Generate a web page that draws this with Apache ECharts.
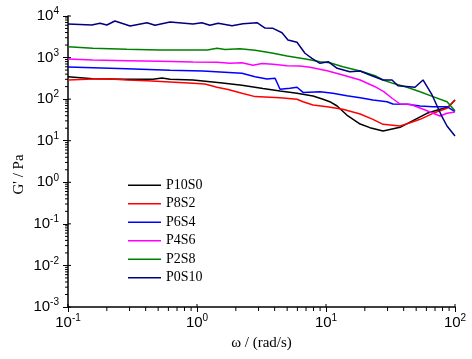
<!DOCTYPE html>
<html><head><meta charset="utf-8">
<script src="https://cdn.jsdelivr.net/npm/echarts@6/dist/echarts.min.js"></script>
<style>html,body{margin:0;padding:0;background:#fff}#c{width:472px;height:359px}</style>
</head><body><div id="c"></div>
<script>
const seriesNames = ['P10S0','P8S2','P6S4','P4S6','P2S8','P0S10'];
const seriesColors = ['#000000','#FF0000','#0000FF','#FF00FF','#008000','#000080'];

const w_P10S0 = [0.1,0.156,0.286,0.456,0.536,0.618,0.931,1.51,2.23,3.25,4.40,5.96,7.93,9.48,10.7,12.2,14.5,18.4,21.9,27.7,37.5,47.2,60.6,76.5,88.3,100];
const g_P10S0 = [347,311,300,300,323,300,289,249,215,180,157,138,119,99.1,86.7,68.4,41.5,25.2,20.6,17.1,21.0,30.3,45.6,57.0,63.7,95.3];

const w_P8S2 = [0.1,0.156,0.200,0.286,0.410,0.618,0.931,1.15,1.43,1.74,2.23,2.82,3.67,4.40,5.96,6.64,7.93,10.2,13.5,18.4,23.1,27.7,37.5,44.8,53.6,67.5,86.7,100];
const g_P8S2 = [289,305,311,289,278,258,240,231,193,171,138,115,111,108,99.1,86.7,72.3,65.8,57.0,44.0,32.7,24.8,22.6,27.1,32.7,45.6,60.3,95.3];

const w_P6S4 = [0.1,0.156,0.286,0.618,1.11,1.51,2.23,2.82,3.49,4.03,4.40,5.26,5.96,6.64,8.98,11.3,14.5,18.4,23.1,29.7,33.0,42.5,53.6,67.5,86.7,100];
const g_P6S4 = [593,571,540,494,475,450,419,347,305,317,173,182,193,145,151,138,121,108,95.3,86.7,76.4,75.2,68.4,65.8,65.8,49.9];

const w_P4S6 = [0.1,0.156,0.286,0.516,0.931,1.43,1.80,2.23,2.72,3.19,3.88,4.99,6.28,7.51,10.2,13.5,18.4,24.0,28.2,32.5,37.5,44.8,57.5,76.5,86.7,100];
const g_P4S6 = [925,875,842,814,782,769,728,753,652,719,688,637,627,583,483,381,289,199,149,105,76.4,75.2,56.4,39.3,45.6,49.1];

const w_P2S8 = [0.1,0.156,0.286,0.516,1.20,1.43,1.65,2.15,2.82,3.81,4.99,7.13,8.98,10.7,13.5,18.4,24.0,27.7,33.0,42.5,53.6,67.5,86.7,100];
const g_P2S8 = [1820,1670,1580,1520,1520,1670,1560,1630,1500,1290,1090,908,796,754,603,475,366,289,240,193,151,115,86.7,52.7];

const w_P0S10 = [0.1,0.153,0.177,0.200,0.231,0.303,0.410,0.472,0.618,0.931,1.09,1.26,1.46,1.87,2.27,2.92,3.37,3.88,4.56,5.07,5.96,6.87,7.78,8.98,10.4,12.2,15.3,18.4,21.9,27.7,32.5,36.1,49.0,56.5,66.4,79.3,86.7,100];
const g_P0S10 = [6430,6070,6670,6070,7590,5740,6900,5970,7180,6430,6900,5970,6670,5850,6530,6900,5140,5060,3960,2650,2330,1270,960,728,796,552,457,475,381,289,289,210,193,289,126,37.8,22.6,13.0];

const xMin = 0.1, xMax = 100, yMin = 0.001, yMax = 10000;

const allW = [w_P10S0,w_P8S2,w_P6S4,w_P4S6,w_P2S8,w_P0S10];
const allG = [g_P10S0,g_P8S2,g_P6S4,g_P4S6,g_P2S8,g_P0S10];

// tick positions (axis decoration)
const xMinor = [], yMinor = [], xMajor = [], yMajor = [];
for (let e = -1; e < 2; e++) for (let k = 2; k <= 9; k++) xMinor.push([k*Math.pow(10,e), yMin]);
for (let e = -3; e < 4; e++) for (let k = 2; k <= 9; k++) yMinor.push([xMin, k*Math.pow(10,e)]);
for (let e = -1; e <= 2; e++) xMajor.push([Math.pow(10,e), yMin]);
for (let e = -3; e <= 4; e++) yMajor.push([xMin, Math.pow(10,e)]);

function powLabel(v){
  const e = Math.round(Math.log10(v));
  return '{b|10}{s|' + e + '}';
}
const rich = {
  b:{fontFamily:'Liberation Sans',fontSize:15,color:'#000',lineHeight:18},
  s:{fontFamily:'Liberation Sans',fontSize:10,color:'#000',padding:[0,0,9,0],lineHeight:18}
};

const lineSeries = seriesNames.map((n,i)=>({
  name:n, type:'line', showSymbol:false, symbol:'none',
  data: allW[i].map((w,j)=>[w, allG[i][j]]),
  lineStyle:{color:seriesColors[i], width:1.5},
  itemStyle:{color:seriesColors[i]},
  animation:false, z:3
}));

function tickSeries(data, dx1, dy1, dx2, dy2){
  return {type:'custom', silent:true, data:data, encode:{x:0,y:1}, clip:false, z:5,
    renderItem:(p,api)=>{const c=api.coord([api.value(0),api.value(1)]);
      return {type:'line',shape:{x1:c[0]+dx1,y1:c[1]+dy1,x2:c[0]+dx2,y2:c[1]+dy2},style:{stroke:'#000',lineWidth:1}};}};
}

const chart = echarts.init(document.getElementById('c'));
chart.setOption({
  animation:false,
  grid:{left:68,right:17,top:16,bottom:52,containLabel:false},
  legend:{
    data:seriesNames, orient:'vertical', left:123, top:171,
    icon:'rect', itemWidth:33, itemHeight:1.5, itemGap:0,
    textStyle:{fontFamily:'Liberation Serif',fontSize:14,color:'#000',lineHeight:18.5}
  },
  xAxis:{
    type:'log', logBase:10, min:xMin, max:xMax,
    name:'ω / (rad/s)', nameLocation:'middle', nameGap:29, nameMoveOverlap:false,
    nameTextStyle:{fontFamily:'Liberation Serif',fontSize:15,color:'#000'},
    axisLine:{show:true,lineStyle:{color:'#000',width:1.5}},
    axisTick:{show:true,inside:false,length:5,lineStyle:{color:'#000',width:1}},
    axisLabel:{formatter:powLabel,rich:rich,margin:7},
    splitLine:{show:false}
  },
  yAxis:{
    type:'log', logBase:10, min:yMin, max:yMax,
    name:"G' / Pa", nameLocation:'middle', nameGap:41, nameMoveOverlap:false,
    nameTextStyle:{fontFamily:'Liberation Serif',fontSize:15,color:'#000',padding:[0,26,0,0]},
    axisLine:{show:true,lineStyle:{color:'#000',width:1.5}},
    axisTick:{show:true,inside:false,length:5,lineStyle:{color:'#000',width:1}},
    axisLabel:{formatter:powLabel,rich:rich,margin:9},
    splitLine:{show:false}
  },
  series: lineSeries.concat([
    tickSeries(xMinor, 0, 0, 0, 4),
    tickSeries(yMinor, -3, 0, 0, 0),
    tickSeries(xMajor, 0, 0, 0, -3),
    tickSeries(yMajor, 0, 0, 3, 0)
  ])
});
</script></body></html>
